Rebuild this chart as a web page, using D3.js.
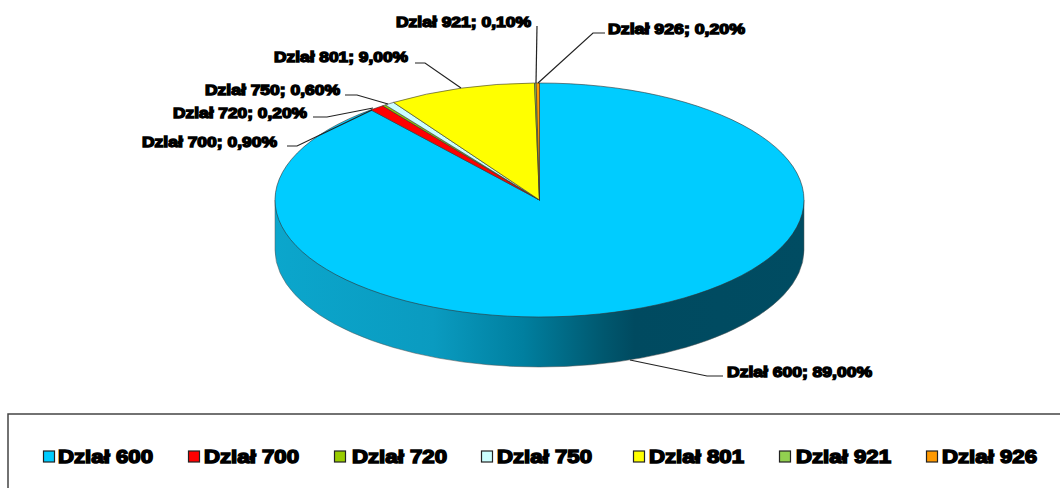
<!DOCTYPE html>
<html>
<head>
<meta charset="utf-8">
<style>
html,body{margin:0;padding:0;background:#fff;overflow:hidden}
text{font-family:"Liberation Sans",Arial,sans-serif;font-weight:bold;fill:#000;stroke:#000}
</style>
<script src="https://cdn.jsdelivr.net/npm/d3@7"></script>
</head>
<body>
<div id="chart"></div>
<script>
var categories=["Dział 600","Dział 700","Dział 720","Dział 750","Dział 801","Dział 921","Dział 926"];
var shares=[89,0.9,0.2,0.6,9,0.1,0.2];
var shareLabels=["89,00%","0,90%","0,20%","0,60%","9,00%","0,10%","0,20%"];
var colors=["#00ccff","#ff0000","#99cc00","#ccffff","#ffff00","#92d050","#ff9900"];
var wallStops=[[0,"#0ba6cc"],[0.3,"#0a9bc0"],[0.47,"#007f9f"],[0.62,"#00586f"],[0.68,"#004a60"],[1,"#004c62"]];
// label box (left x, centre y, width) and leader line
var labelBox=[[727,372,145],[142,142,135],[173,113,134],[205,90,135],[274,57,134],[396,22,135],[608,29,137]];
var leaders=[[[723,376],[707,376],[630,360]],
	[[287,146],[297,146],[322,134],[372,110]],
	[[313,117],[327,117],[373,108]],
	[[345,95],[357,95],[388,104]],
	[[415,63],[425,63],[461,88]],
	[[537,26],[536,83]],
	[[605,33],[593,33],[538,83]]];
var legendX=[43,188,334,481,633,779,926];
var legendTextX=[58,204,352,497,649,796,942];

var width=1060,height=488;
var cx=539.5,cy=200,rx=264.5,ry=117,depth=50;

var svg=d3.select("#chart").append("svg").attr("width",width).attr("height",height);

var grad=svg.append("defs").append("linearGradient").attr("id","wall")
	.attr("gradientUnits","userSpaceOnUse")
	.attr("x1",cx-rx).attr("x2",cx+rx).attr("y1",0).attr("y2",0);
grad.selectAll("stop").data(wallStops).enter().append("stop")
	.attr("offset",function(d){return d[0];})
	.attr("stop-color",function(d){return d[1];});

//side of the disc
svg.append("path")
	.attr("d","M"+(cx-rx)+","+cy+"L"+(cx-rx)+","+(cy+depth)+"A"+rx+","+ry+" 0 0 0 "+(cx+rx)+","+(cy+depth)+"L"+(cx+rx)+","+cy+"Z")
	.attr("fill","url(#wall)")
	.attr("stroke","#555").attr("stroke-width",0.5);

//top face, circle squashed to an ellipse
var pie=d3.pie().sort(null).value(function(d){return d;});
var arc=d3.arc().innerRadius(0).outerRadius(rx);
svg.append("g").attr("transform","translate("+cx+","+cy+") scale(1,"+(ry/rx)+")")
	.selectAll("path").data(pie(shares)).enter().append("path")
	.attr("d",arc)
	.attr("fill",function(d,i){return colors[i];})
	.attr("stroke","#333")
	.attr("stroke-width",0.6)
	.attr("vector-effect","non-scaling-stroke");

//leader lines
var line=d3.line();
svg.selectAll("path.leader").data(leaders).enter().append("path")
	.attr("class","leader")
	.attr("d",line)
	.attr("fill","none").attr("stroke","#222").attr("stroke-width",1.2);

//data labels
svg.selectAll("text.lab").data(categories).enter().append("text")
	.attr("class","lab")
	.attr("x",function(d,i){return labelBox[i][0];})
	.attr("y",function(d,i){return labelBox[i][1]+5;})
	.attr("font-size",14)
	.attr("stroke-width",1.3)
	.attr("textLength",function(d,i){return labelBox[i][2];})
	.attr("lengthAdjust","spacingAndGlyphs")
	.text(function(d,i){return d+"; "+shareLabels[i];});

//legend
svg.append("rect").attr("x",8).attr("y",414).attr("width",1060).attr("height",120)
	.attr("fill","none").attr("stroke","#444").attr("stroke-width",1.5);
var leg=svg.selectAll("g.leg").data(categories).enter().append("g")
	.attr("class","leg");
leg.append("rect")
	.attr("x",function(d,i){return legendX[i]+0.5;})
	.attr("y",451).attr("width",11).attr("height",11)
	.attr("fill",function(d,i){return colors[i];})
	.attr("stroke","#222").attr("stroke-width",1.2);
leg.append("text")
	.attr("x",function(d,i){return legendTextX[i];})
	.attr("y",463)
	.attr("font-size",19).attr("stroke-width",1.5)
	.attr("textLength",95).attr("lengthAdjust","spacingAndGlyphs")
	.text(function(d){return d;});
</script>
</body>
</html>
